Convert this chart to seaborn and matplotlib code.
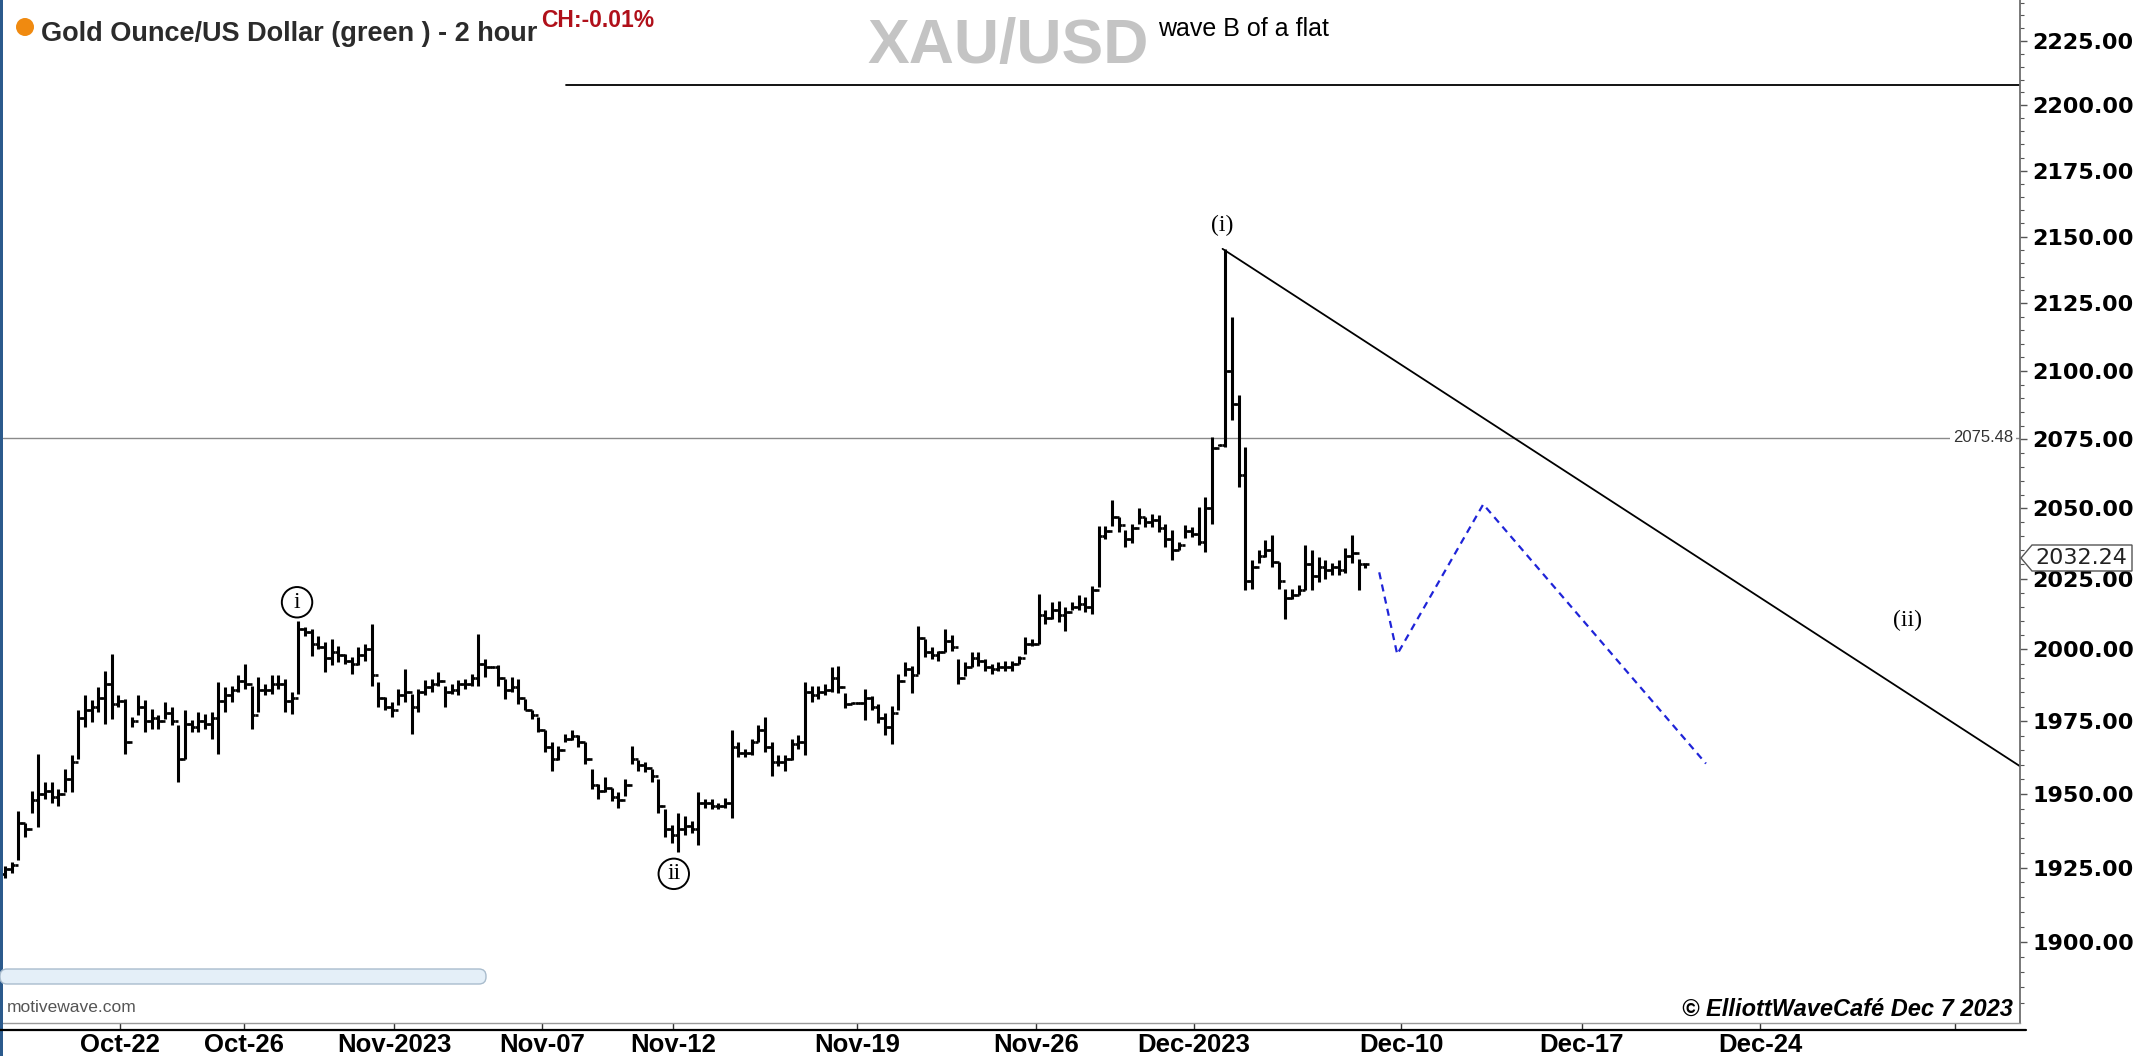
import numpy as np
import pandas as pd
import matplotlib
matplotlib.use("Agg")
import matplotlib.pyplot as plt
import seaborn as sns
from matplotlib.patches import Ellipse, FancyBboxPatch, Polygon, Rectangle
from matplotlib.lines import Line2D
from matplotlib.ticker import FixedLocator, FixedFormatter, NullFormatter

# ---------------- data (price per 2-bar step) ----------------
highs = [
    1925.6, 1926.8, 1944.1, 1940.1, 1951.1, 1963.8, 1954.0, 1954.0, 1951.6, 1958.6,
    1963.2, 1978.8, 1984.0, 1982.2, 1986.9, 1992.6, 1998.4, 1984.0, 1982.8, 1976.5,
    1984.0, 1982.2, 1979.4, 1977.0, 1981.7, 1979.9, 1973.6, 1978.8, 1975.3, 1978.2,
    1977.6, 1978.2, 1988.6, 1986.9, 1987.4, 1990.9, 1994.9, 1987.4, 1990.3, 1988.0,
    1990.9, 1990.9,
    1989.8, 1985.1, 2010.0, 2007.7, 2007.1, 2004.8, 2002.5, 2003.6, 2001.3, 1998.4,
    1997.3, 2000.7, 2001.9, 2008.8, 1988.6, 1983.4, 1981.7, 1986.3, 1993.2, 1984.5,
    1986.3, 1989.2, 1989.8, 1992.1, 1987.4, 1988.0, 1989.2, 1989.8, 1991.5, 2005.3,
    1996.7, 1994.2, 1994.4, 1989.8, 1990.3, 1989.8, 1982.8, 1978.8, 1976.5, 1971.8,
    1967.8, 1966.6, 1970.7, 1971.8, 1970.1, 1967.8, 1958.6, 1953.4, 1955.7, 1952.2,
    1950.5, 1955.1, 1966.6, 1961.5, 1960.9, 1958.6, 1955.1, 1944.7, 1939.5, 1943.5,
    1942.4, 1940.7, 1950.5, 1948.2, 1948.2, 1947.0, 1948.7, 1971.8, 1967.8, 1965.5,
    1969.0, 1973.6, 1976.5, 1967.8, 1963.2, 1963.2, 1969.0, 1970.1, 1988.6, 1987.4,
    1987.4, 1988.0, 1993.8,
    1994.3, 1984.9, 1981.6, 1981.6, 1986.1, 1983.7, 1980.8, 1977.8, 1980.2, 1991.3,
    1995.5, 1994.3, 2008.4, 2003.7, 2000.8, 1999.6, 2007.2, 2004.9, 1996.6, 1995.5,
    1999.0, 1999.0, 1996.6, 1994.9, 1995.5, 1996.1, 1996.1, 1997.8, 2004.3, 2003.7,
    2019.6, 2013.7, 2016.6, 2017.2, 2014.9, 2016.6, 2019.0, 2018.4, 2022.5, 2043.7,
    2043.7, 2053.1,
    2047.0, 2042.3, 2044.6, 2050.0, 2047.0, 2048.2, 2047.6, 2044.6, 2042.3, 2038.1,
    2044.0, 2043.5, 2050.6, 2054.2, 2075.8, 2073.2, 2145.4, 2120.1, 2091.1, 2072.2,
    2031.6, 2035.1, 2038.7, 2040.5, 2031.0, 2021.4, 2021.4, 2022.6, 2036.9, 2035.1,
    2032.7, 2031.6, 2030.4, 2031.6, 2035.7, 2040.5, 2032.1, 2030.4,
]
lows = [
    1921.6, 1923.3, 1927.4, 1935.5, 1943.6, 1938.9, 1948.2, 1947.0, 1945.9, 1950.5,
    1950.5, 1962.0, 1973.0, 1974.7, 1978.2, 1974.2, 1975.9, 1979.9, 1963.8, 1973.0,
    1977.0, 1971.3, 1972.4, 1972.4, 1975.9, 1973.6, 1954.0, 1962.0, 1971.3, 1971.3,
    1972.4, 1969.0, 1963.8, 1978.2, 1981.7, 1985.1, 1986.3, 1972.4, 1978.2, 1984.0,
    1984.5, 1986.3,
    1978.2, 1977.6, 1984.5, 2004.8, 1997.8, 2000.1, 1992.1, 1994.4, 1995.5, 1994.9,
    1991.5, 1994.4, 1996.1, 1987.4, 1979.9, 1978.8, 1976.5, 1980.5, 1981.7, 1970.7,
    1978.2, 1984.0, 1985.1, 1987.4, 1979.9, 1984.5, 1984.0, 1986.3, 1987.4, 1987.4,
    1990.3, 1993.5, 1987.4, 1982.8, 1985.1, 1981.1, 1978.8, 1975.9, 1971.3, 1964.3,
    1958.0, 1961.5, 1967.8, 1968.4, 1966.1, 1960.3, 1951.6, 1948.2, 1950.5, 1947.6,
    1945.3, 1949.3, 1960.3, 1958.0, 1957.4, 1954.0, 1943.6, 1935.5, 1933.2, 1930.3,
    1936.0, 1936.6, 1932.6, 1945.3, 1944.7, 1944.7, 1945.3, 1941.8, 1962.6, 1962.6,
    1963.2, 1967.8, 1964.3, 1956.3, 1959.7, 1958.0, 1961.5, 1965.5, 1963.2, 1981.7,
    1982.8, 1984.0, 1985.1,
    1984.9, 1979.6, 1981.0, 1981.0, 1975.5, 1979.0, 1974.3, 1970.2, 1967.2, 1979.0,
    1990.8, 1984.9, 1991.3, 1997.2, 1996.6, 1996.1, 1999.0, 1999.6, 1987.8, 1990.8,
    1993.7, 1994.3, 1992.5, 1991.3, 1992.5, 1992.5, 1992.5, 1994.9, 1998.4, 2001.3,
    2001.9, 2009.0, 2010.7, 2009.6, 2006.6, 2013.7, 2013.7, 2013.1, 2012.5, 2021.9,
    2039.0, 2043.7,
    2041.7, 2036.3, 2037.5, 2044.6, 2043.5, 2043.5, 2041.7, 2036.3, 2031.6, 2035.1,
    2039.3, 2039.9, 2036.9, 2034.5, 2044.6, 2072.5, 2072.2, 2081.9, 2057.8, 2020.8,
    2021.4, 2030.4, 2032.7, 2029.2, 2021.4, 2010.7, 2017.9, 2019.1, 2020.8, 2020.8,
    2023.8, 2025.0, 2026.2, 2026.2, 2026.8, 2030.4, 2020.8, 2028.9,
]
closes = [
    1924.5, 1926.0, 1940.0, 1938.0, 1948.0, 1950.0, 1951.0, 1949.0, 1950.0, 1955.0,
    1961.0, 1976.0, 1979.0, 1980.0, 1983.0, 1988.0, 1981.0, 1982.0, 1968.0, 1975.0,
    1980.0, 1975.0, 1976.0, 1975.0, 1978.0, 1975.0, 1962.0, 1974.0, 1973.0, 1975.0,
    1974.0, 1976.0, 1982.0, 1984.0, 1986.0, 1989.0, 1988.0, 1977.0, 1986.0, 1986.0,
    1988.0, 1988.0,
    1982.0, 1983.0, 2007.0, 2006.0, 2002.0, 2001.0, 1997.0, 1999.0, 1998.0, 1996.0,
    1995.0, 1998.0, 2000.0, 1991.0, 1983.0, 1980.0, 1979.0, 1984.0, 1985.0, 1980.0,
    1985.0, 1987.0, 1988.0, 1989.0, 1985.0, 1986.0, 1988.0, 1988.0, 1990.0, 1995.0,
    1994.0, 1994.0, 1990.0, 1986.0, 1987.0, 1983.0, 1979.0, 1977.0, 1972.0, 1966.0,
    1962.0, 1965.0, 1969.0, 1970.0, 1968.0, 1962.0, 1953.0, 1951.0, 1952.0, 1949.0,
    1948.0, 1953.0, 1962.0, 1960.0, 1959.0, 1956.0, 1946.0, 1938.0, 1936.0, 1938.0,
    1939.0, 1938.0, 1947.0, 1947.0, 1946.0, 1946.0, 1947.0, 1966.0, 1964.0, 1964.0,
    1968.0, 1972.0, 1966.0, 1961.0, 1961.0, 1962.0, 1967.0, 1968.0, 1985.0, 1984.0,
    1985.0, 1986.0, 1990.0,
    1987.0, 1981.0, 1981.3, 1981.3, 1983.0, 1980.0, 1976.0, 1973.0, 1978.0, 1989.0,
    1993.0, 1991.0, 2004.0, 1999.0, 1998.0, 1999.0, 2003.0, 2001.0, 1990.0, 1994.0,
    1997.0, 1996.0, 1994.0, 1993.0, 1994.0, 1994.0, 1995.0, 1997.0, 2002.0, 2002.0,
    2012.0, 2011.0, 2014.0, 2012.0, 2013.0, 2015.0, 2016.0, 2015.0, 2021.0, 2040.0,
    2042.0, 2047.0,
    2044.0, 2039.0, 2043.0, 2047.0, 2045.0, 2046.0, 2043.0, 2039.0, 2035.0, 2037.0,
    2042.0, 2041.0, 2038.0, 2050.0, 2072.0, 2072.8, 2100.0, 2088.0, 2062.0, 2024.0,
    2029.0, 2033.0, 2035.0, 2031.0, 2024.0, 2018.0, 2019.0, 2021.0, 2030.0, 2026.0,
    2029.0, 2028.0, 2029.0, 2028.0, 2033.0, 2034.0, 2030.0, 2030.0,
]
first_open = 1923.0

date_labels = ["Oct-22", "Oct-26", "Nov-2023", "Nov-07", "Nov-12", "Nov-19",
               "Nov-26", "Dec-2023", "Dec-10", "Dec-17", "Dec-24", ""]
date_bar_pos = [17.25, 35.85, 58.35, 80.5, 100.2, 127.8, 154.6, 178.3,
                209.4, 236.5, 263.2, 292.5]

price_ticks = [1900, 1925, 1950, 1975, 2000, 2025, 2050, 2075, 2100, 2125,
               2150, 2175, 2200, 2225]

level_price = 2075.48
last_price = 2032.24
resist_x = [84.1, 302.2]
resist_y = [2207.7, 2207.7]
trend_x = [182.6, 302.2]
trend_y = [2145.4, 1959.5]
proj_x = [206.1, 208.8, 221.7, 255.1]
proj_y = [2027.2, 1998.3, 2051.5, 1960.4]

wave_labels = ["(i)", "(ii)"]
wave_x = [182.6, 285.4]
wave_y = [2154.1, 2010.2]
minor_labels = ["i", "ii"]
minor_x = [43.8, 100.3]
minor_y = [2016.6, 1922.9]

# ---------------- figure ----------------
sns.set_theme(style="white")
plt.rcParams["font.family"] = ["Liberation Sans", "DejaVu Sans"]

W, H = 2137, 1056
fig = plt.figure(figsize=(W / 100, H / 100), dpi=100, facecolor="white")
ax = fig.add_axes([3 / W, 33 / H, (2020 - 3) / W, 1023 / H])
ax.set_facecolor("white")


def px(x, y):
    """pixel (from top-left) -> inches from bottom-left"""
    return x / 100.0, (H - y) / 100.0


n = min(len(highs), len(lows), len(closes))
df = pd.DataFrame({
    "bar": np.arange(n),
    "high": highs[:n],
    "low": lows[:n],
    "close": closes[:n],
})
df["open"] = [first_open] + list(df["close"].iloc[:-1])

ax.set_yscale("log")

# horizontal level line
ax.axhline(level_price, color="#8a8a8a", lw=1.0, zorder=1)

# OHLC bars
tk = 0.55
ax.vlines(df["bar"], df["low"], df["high"], color="black", lw=2.2, zorder=3)
ax.hlines(df["open"], df["bar"] - tk, df["bar"], color="black", lw=1.9, zorder=3)
ax.hlines(df["close"], df["bar"], df["bar"] + tk, color="black", lw=1.9, zorder=3)

# wave lines
sns.lineplot(x=resist_x, y=resist_y, ax=ax, color="black", lw=1.3,
             sort=False, estimator=None)
sns.lineplot(x=trend_x, y=trend_y, ax=ax, color="black", lw=1.3,
             sort=False, estimator=None)
sns.lineplot(x=proj_x, y=proj_y, ax=ax, color="#1f24d8", lw=1.6,
             sort=False, estimator=None, linestyle=(0, (3.2, 2.4)))

# wave labels
for t, x, y in zip(wave_labels, wave_x, wave_y):
    ax.text(x, y, t, ha="center", va="center", fontsize=17,
            family=["Liberation Serif", "DejaVu Serif"], color="black", zorder=5)
for t, x, y in zip(minor_labels, minor_x, minor_y):
    ax.text(x, y, t, ha="center", va="center", fontsize=17,
            family=["Liberation Serif", "DejaVu Serif"], color="black", zorder=5,
            bbox=dict(boxstyle="circle,pad=0.2", fc="white", ec="black", lw=1.4))

ax.set_xlim(-0.3, 302.2)
ax.set_ylim(1873.3, 2241.0)
ax.set_xlabel("")
ax.set_ylabel("")

# y axis (right side, log scale)
ax.yaxis.tick_right()
ax.yaxis.set_major_locator(FixedLocator(price_ticks))
ax.yaxis.set_major_formatter(FixedFormatter([f"{p:.2f}" for p in price_ticks]))
minor = [p for p in range(1875, 2241, 5) if p % 25 != 0]
ax.yaxis.set_minor_locator(FixedLocator(minor))
ax.yaxis.set_minor_formatter(NullFormatter())
ax.tick_params(axis="y", which="major", direction="out", length=5, width=1.0,
               color="#555555", pad=4, labelsize=16, labelcolor="black",
               right=True, left=False, labelright=True, labelleft=False)
ax.tick_params(axis="y", which="minor", direction="out", length=3, width=0.8,
               color="#555555", right=True, left=False)
for lbl in ax.get_yticklabels():
    lbl.set_fontweight("bold")
    lbl.set_family(["DejaVu Sans"])

# x axis (dates)
ax.set_xticks(date_bar_pos)
ax.set_xticklabels(date_labels)
ax.tick_params(axis="x", which="major", direction="out", length=5, width=1.0,
               color="#333333", pad=2.5, labelsize=18.5, labelcolor="black",
               bottom=True, top=False)
for lbl in ax.get_xticklabels():
    lbl.set_fontweight("bold")
ax.xaxis.set_minor_locator(FixedLocator([]))

for s in ("top", "left"):
    ax.spines[s].set_visible(False)
ax.spines["right"].set_color("#6e6e6e")
ax.spines["right"].set_linewidth(1.3)
ax.spines["bottom"].set_color("#9a9a9a")
ax.spines["bottom"].set_linewidth(1.0)
ax.grid(False)

T = fig.dpi_scale_trans

# black line under the date tick strip
x0, y0 = px(0, 1030)
x1, _ = px(2026, 1030)
fig.add_artist(Line2D([x0, x1], [y0, y0], transform=T, color="black", lw=1.6))
# blue frame edge on the left
fig.add_artist(Rectangle(px(0, 1056), 3 / 100, H / 100, transform=T,
                         color="#2b5a8c", lw=0))

# header
cx, cy = px(25, 27)
fig.add_artist(Ellipse((cx, cy), 0.18, 0.18, transform=T, color="#f08a10", lw=0))
fig.text(*px(41, 41), "Gold Ounce/US Dollar (green ) - 2 hour", transform=T,
         fontsize=19.5, fontweight="bold", color="#2b2b2b", va="baseline", ha="left")
fig.text(*px(541, 27), "CH:-0.01%", transform=T, fontsize=16.5,
         fontweight="bold", color="#b0101a", va="baseline", ha="left",
         family=["Liberation Sans Narrow", "Liberation Sans"])
fig.text(*px(1008, 63), "XAU/USD", transform=T, fontsize=45, fontweight="bold",
         color="#c4c4c4", va="baseline", ha="center")
fig.text(*px(1158, 36), "wave B of a flat", transform=T, fontsize=18,
         color="black", va="baseline", ha="left")

# level label
fig.text(*px(2013, 438), f"{level_price:.2f}", transform=T, fontsize=12,
         color="#333333", va="center", ha="right",
         bbox=dict(boxstyle="square,pad=0.15", fc="white", ec="none"))

# last price tag on the axis
tag_y = 558
pts = [px(2021, tag_y), px(2032, tag_y - 13), px(2132, tag_y - 13),
       px(2132, tag_y + 13), px(2032, tag_y + 13)]
fig.add_artist(Polygon(pts, closed=True, transform=T, fc="white",
                       ec="#555555", lw=1.0, zorder=4))
fig.text(*px(2081, tag_y), f"{last_price:.2f}", transform=T, fontsize=16,
         family=["DejaVu Sans"], color="#222222", va="center", ha="center",
         zorder=5)

# scroll bar
sx, sy = px(0, 984)
fig.add_artist(FancyBboxPatch((sx, sy), 4.86, 0.15, transform=T,
                              boxstyle="round,pad=0,rounding_size=0.07",
                              fc="#e4eff8", ec="#a9bccd", lw=1.0))

# footer texts
fig.text(*px(7, 1012), "motivewave.com", transform=T, fontsize=12.5,
         color="#555555", va="baseline", ha="left")
fig.text(*px(2013, 1016), "\u00a9 ElliottWaveCaf\u00e9 Dec 7 2023", transform=T,
         fontsize=17, fontweight="bold", style="italic", color="black",
         va="baseline", ha="right")

fig.savefig("out.png", dpi=100, facecolor="white")
